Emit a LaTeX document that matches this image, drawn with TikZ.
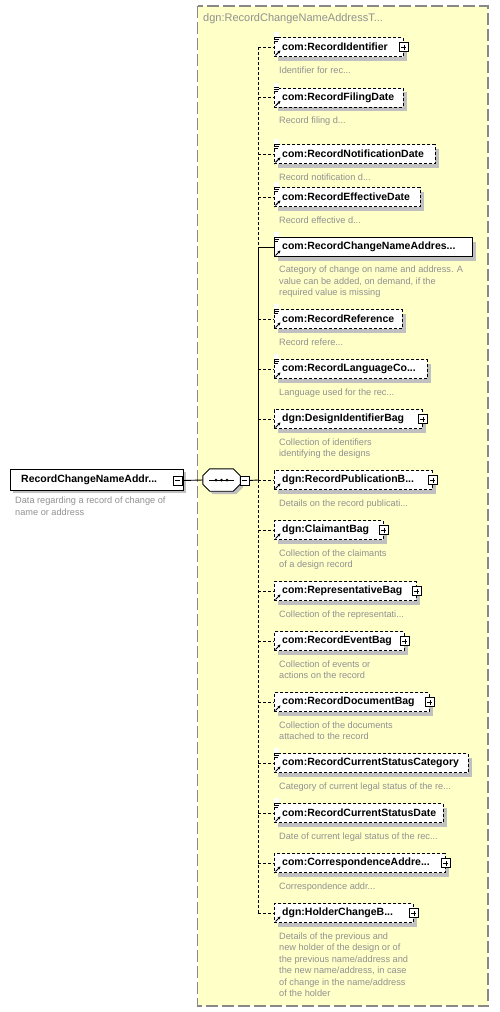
\documentclass[tikz,border=0pt]{standalone}
\usepackage{fontspec}
\setmainfont{Liberation Sans}
\usetikzlibrary{shadows,arrows.meta}
\definecolor{typefill}{RGB}{255,255,200}
\definecolor{typeedge}{RGB}{136,136,136}
\definecolor{descgray}{RGB}{145,145,145}
\definecolor{shadowgray}{RGB}{192,192,192}
\tikzset{
  elbox/.style={draw=black, line width=0.9pt, fill=white, dash pattern=on 3pt off 2pt,
    minimum height=19pt, inner sep=0pt, anchor=west,
    drop shadow={shadow xshift=4pt, shadow yshift=-4pt, fill=shadowgray, opacity=1}},
  reqbox/.style={elbox, solid},
  lbl/.style={anchor=west, inner sep=0pt, font=\bfseries\fontsize{10.5}{12}\selectfont},
  desc/.style={anchor=north west, inner sep=0pt, text=descgray, align=left,
    font=\fontsize{9.2}{11.5}\selectfont},
  conn/.style={line width=0.9pt, dash pattern=on 3pt off 2pt},
  solidconn/.style={line width=0.9pt},
  plusbox/.style={draw=black, solid, fill=white, line width=0.7pt, minimum size=9pt, inner sep=0pt,
    path picture={\draw[line width=0.7pt] ([xshift=2pt]path picture bounding box.west) -- ([xshift=-2pt]path picture bounding box.east)
      ([yshift=2pt]path picture bounding box.south) -- ([yshift=-2pt]path picture bounding box.north);}},
  minusbox/.style={draw=black, solid, fill=white, line width=0.7pt, minimum size=9pt, inner sep=0pt,
    path picture={\draw[line width=0.7pt] ([xshift=2pt]path picture bounding box.west) -- ([xshift=-2pt]path picture bounding box.east);}},
  icon/.style={line width=0.7pt, solid, black},
}
\newcommand{\myElem}[5]{%
  \node[#5, minimum width={#3-274}] (b#1) at (274,#2) {};
  \node[lbl] (l#1) at ([xshift=8pt]b#1.west) {#4};
  \coordinate (j#1) at (258,#2);
}
\newcommand{\myEq}[1]{%
  \fill[white] ([shift={(-0.5,1)}]b#1.north west) rectangle ([shift={(5,-5)}]b#1.north west);
  \draw[icon] ([shift={(0,0)}]b#1.north west) -- ++(5,0)
              ([shift={(0,2)}]b#1.north west) -- ++(5,0)
              ([shift={(0,4)}]b#1.north west) -- ++(3.5,0);
}
\newcommand{\myRef}[1]{%
  \draw[icon, line width=1pt, -{Stealth[length=3pt,width=3pt]}] ([shift={(1.5,-1.5)}]b#1.south west) -- ++(5,-5);
}
\newcommand{\myPlus}[1]{\node[plusbox] (p#1) at (b#1.east) {};}
\newcommand{\myOct}[2]{% #1 = node name, #2 = shift
  ([shift={(7+#2,#2)}]#1.north west) -- ([shift={(-7+#2,#2)}]#1.north east) -- ([shift={(#2,7+#2)}]#1.north east)
  -- ([shift={(#2,-7+#2)}]#1.south east) -- ([shift={(-7+#2,#2)}]#1.south east) -- ([shift={(7+#2,#2)}]#1.south west)
  -- ([shift={(#2,-7+#2)}]#1.south west) -- ([shift={(#2,7+#2)}]#1.north west) -- cycle}
\begin{document}
\begin{tikzpicture}[x=1pt,y=-1pt]
\useasboundingbox (0,0) rectangle (499,1012);
% type container
\draw[fill=typefill, draw=typeedge, line width=1.2pt, dash pattern=on 12pt off 4pt] (197.5,6) rectangle (488,1006);
\node[anchor=west, inner sep=0pt, text=descgray, font=\fontsize{11}{13}\selectfont] (title) at (203,18.5) {dgn:RecordChangeNameAddressT...};

% root element
\node[draw=black, line width=0.9pt, fill=white, minimum width=173pt, minimum height=21pt, inner sep=0pt, anchor=west,
  drop shadow={shadow xshift=3pt, shadow yshift=-3pt, fill=shadowgray, opacity=1}] (root) at (10,479.5) {};
\node[lbl] (rootl) at (21,479.5) {RecordChangeNameAddr...};
\node[minusbox] (rootm) at (177.5,480.5) {};
\node[desc] (rootd) at (15,497) {Data regarding a record of change of\\name or address};

% sequence compositor
\node[minimum width=37pt, minimum height=22pt, inner sep=0pt] (seq) at (221.5,480) {};
\fill[shadowgray] \myOct{seq}{3};
\draw[line width=0.9pt, fill=white] \myOct{seq}{0};
\draw[line width=0.7pt] ([xshift=-12.5pt]seq.center) -- ([xshift=12.5pt]seq.center);
\fill (216,480) circle (1.5pt) (221.5,480) circle (1.5pt) (227,480) circle (1.5pt);
\node[minusbox] (seqm) at (244.5,480.5) {};
\draw[solidconn] (rootm.east) -- (seq.west);

% children
\myElem{1}{47}{403}{com:RecordIdentifier}{elbox}
\myElem{2}{97.5}{403}{com:RecordFilingDate}{elbox}
\myElem{3}{154}{435}{com:RecordNotificationDate}{elbox}
\myElem{4}{197}{420}{com:RecordEffectiveDate}{elbox}
\myElem{5}{247}{472}{com:RecordChangeNameAddres...}{reqbox}
\myElem{6}{319}{402}{com:RecordReference}{elbox}
\myElem{7}{369}{427}{com:RecordLanguageCo...}{elbox}
\myElem{8}{419}{422}{dgn:DesignIdentifierBag}{elbox}
\myElem{9}{480}{432}{dgn:RecordPublicationB...}{elbox}
\myElem{10}{530}{383}{dgn:ClaimantBag}{elbox}
\myElem{11}{591}{416}{com:RepresentativeBag}{elbox}
\myElem{12}{641}{404}{com:RecordEventBag}{elbox}
\myElem{13}{702}{429}{com:RecordDocumentBag}{elbox}
\myElem{14}{763}{468}{com:RecordCurrentStatusCategory}{elbox}
\myElem{15}{813}{443}{com:RecordCurrentStatusDate}{elbox}
\myElem{16}{863}{445}{com:CorrespondenceAddre...}{elbox}
\myElem{17}{913}{413}{dgn:HolderChangeB...}{elbox}

\foreach \i in {1,2,3,4,5,6,7,14,15} {\myEq{\i}}
\foreach \i in {1,...,17} {\myRef{\i}}
\foreach \i in {1,8,9,10,11,12,13,16,17} {\myPlus{\i}}

% bus and connectors
\draw[conn] (j1) -- (j5);
\draw[solidconn] (j5) -- (j9);
\draw[conn] (j9) -- (j17);
\draw[solidconn] (seqm.east) -- (j9);
\draw[solidconn] (j5) -- (b5.west);
\foreach \i in {1,2,3,4,6,7,8,9,10,11,12,13,14,15,16,17} {\draw[conn] (j\i) -- (b\i.west);}

% descriptions
\node[desc] (d1) at (279,66.5) {Identifier for rec...};
\node[desc] (d2) at (279,117) {Record filing d...};
\node[desc] (d3) at (279,173.5) {Record notification d...};
\node[desc] (d4) at (279,216.5) {Record effective d...};
\node[desc] (d5) at (279,266) {Category of change on name and address. A\\value can be added, on demand, if the\\required value is missing};
\node[desc] (d6) at (279,338.5) {Record refere...};
\node[desc] (d7) at (279,388.5) {Language used for the rec...};
\node[desc] (d8) at (279,438.5) {Collection of identifiers\\identifying the designs};
\node[desc] (d9) at (279,499.5) {Details on the record publicati...};
\node[desc] (d10) at (279,549.5) {Collection of the claimants\\of a design record};
\node[desc] (d11) at (279,610.5) {Collection of the representati...};
\node[desc] (d12) at (279,660.5) {Collection of events or\\actions on the record};
\node[desc] (d13) at (279,721.5) {Collection of the documents\\attached to the record};
\node[desc] (d14) at (279,782.5) {Category of current legal status of the re...};
\node[desc] (d15) at (279,832.5) {Date of current legal status of the rec...};
\node[desc] (d16) at (279,882.5) {Correspondence addr...};
\node[desc] (d17) at (279,932.5) {Details of the previous and\\new holder of the design or of\\the previous name/address and\\the new name/address, in case\\of change in the name/address\\of the holder};
\end{tikzpicture}
\end{document}
